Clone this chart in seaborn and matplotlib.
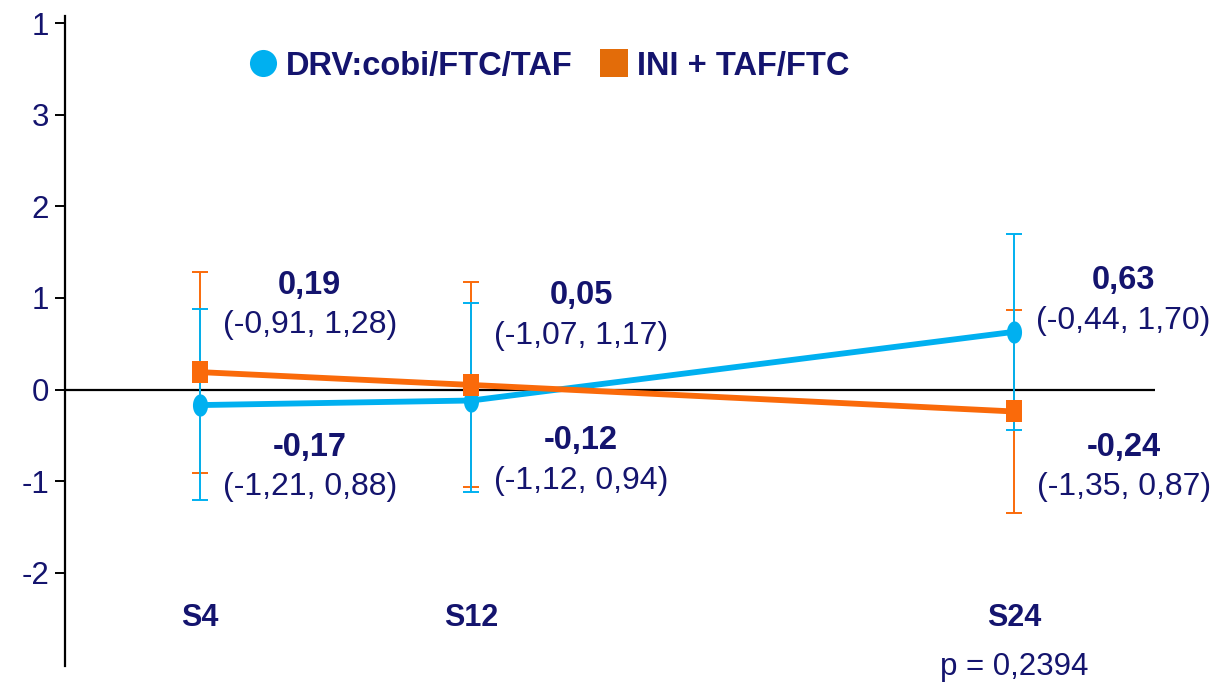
import numpy as np
import pandas as pd
import matplotlib
matplotlib.use("Agg")
import matplotlib.pyplot as plt
from matplotlib.lines import Line2D
import seaborn as sns

# ---------------- data ----------------
visits = ["S4", "S12", "S24"]
visit_pos = [1, 2, 4]
series_names = ["DRV:cobi/FTC/TAF", "INI + TAF/FTC"]
drv_mean = [-0.17, -0.12, 0.63]
drv_low = [-1.21, -1.12, -0.44]
drv_high = [0.88, 0.94, 1.70]
ini_mean = [0.19, 0.05, -0.24]
ini_low = [-0.91, -1.07, -1.35]
ini_high = [1.28, 1.17, 0.87]
ytick_values = [4, 3, 2, 1, 0, -1, -2]
ytick_labels = ["1", "3", "2", "1", "0", "-1", "-2"]
p_text = "p = 0,2394"

# ---------------- style ----------------
sns.set_style("white")
plt.rcParams["font.family"] = ["Liberation Sans", "DejaVu Sans"]
NAVY = "#14146E"
BLUE = "#00B0F0"
ORANGE = "#FA6A0A"
ORANGE_LEG = "#E36C09"

W, H = 1220, 685
fig = plt.figure(figsize=(W / 100, H / 100), dpi=100)
ax = fig.add_axes([64.5 / W, 19 / H, (1155 - 64.5) / W, (666 - 16) / H])

df = pd.DataFrame({
    "pos": visit_pos * 2,
    "value": drv_mean + ini_mean,
    "group": [series_names[0]] * 3 + [series_names[1]] * 3,
})

t = np.linspace(0, 2 * np.pi, 40)
ellipse = np.column_stack([0.68 * np.cos(t), np.sin(t)])
rect = [(-0.72, -1), (0.72, -1), (0.72, 1), (-0.72, 1), (-0.72, -1)]

ax.axhline(0, color="black", lw=1.6, zorder=1)

# error bars
ax.errorbar(visit_pos, ini_mean,
            yerr=[np.array(ini_mean) - np.array(ini_low), np.array(ini_high) - np.array(ini_mean)],
            fmt="none", ecolor=ORANGE, elinewidth=1.4, capsize=6, capthick=1.4, zorder=2)
ax.errorbar(visit_pos, drv_mean,
            yerr=[np.array(drv_mean) - np.array(drv_low), np.array(drv_high) - np.array(drv_mean)],
            fmt="none", ecolor=BLUE, elinewidth=1.4, capsize=6, capthick=1.4, zorder=3)

sns.lineplot(data=df, x="pos", y="value", hue="group", style="group",
             palette={series_names[0]: BLUE, series_names[1]: ORANGE},
             markers={series_names[0]: ellipse, series_names[1]: rect},
             dashes=False, markersize=16, linewidth=4.2, markeredgewidth=0,
             legend=False, ax=ax, zorder=4)

ax.set_xlim(0.5, 4.52)
ax.set_ylim(-3.02, 4.08)
ax.set_xlabel("")
ax.set_ylabel("")
ax.set_xticks([])
ax.set_yticks(ytick_values)
ax.set_yticklabels(ytick_labels, fontsize=22.5, color=NAVY)
ax.tick_params(axis="y", direction="out", length=7, width=1.4, color="black", pad=4, left=True)
for s in ["top", "right", "bottom"]:
    ax.spines[s].set_visible(False)
ax.spines["left"].set_color("black")
ax.spines["left"].set_linewidth(1.6)

def fmt(v):
    return f"{v:.2f}".replace(".", ",")

upper_y = [1.14, 1.03, 1.19]
lower_y = [-0.63, -0.56, -0.63]
gap = 0.44
for i, x in enumerate(visit_pos):
    pairs = [(drv_mean[i], drv_low[i], drv_high[i]), (ini_mean[i], ini_low[i], ini_high[i])]
    pairs.sort(key=lambda p: -p[0])
    for (m, lo, hi), yb in zip(pairs, [upper_y[i], lower_y[i]]):
        ax.annotate(fmt(m), xy=(x, yb), xytext=(79, 0), textcoords="offset points",
                    ha="center", va="center", fontsize=23.5, fontweight="bold", color=NAVY)
        ax.annotate(f"({fmt(lo)}, {fmt(hi)})", xy=(x, yb - gap), xytext=(79, 0),
                    textcoords="offset points", ha="center", va="center",
                    fontsize=23, color=NAVY)
    ax.text(x, -2.5, visits[i], ha="center", va="center", fontsize=22,
            fontweight="bold", color=NAVY)

ax.text(visit_pos[-1], -3.03, p_text, ha="center", va="center", fontsize=22.5,
        color=NAVY, clip_on=False)

handles = [
    Line2D([], [], marker="o", color=BLUE, linestyle="none", markersize=19.5, markeredgewidth=0),
    Line2D([], [], marker="s", color=ORANGE_LEG, linestyle="none", markersize=19.5, markeredgewidth=0),
]
leg = fig.legend(handles, series_names, loc="center left",
                 bbox_to_anchor=(217 / W, 1 - 66 / H), ncol=2, frameon=False,
                 handletextpad=0.2, columnspacing=0.77, handlelength=1.0,
                 prop={"size": 23.5, "weight": "bold"})
for txt in leg.get_texts():
    txt.set_color(NAVY)

fig.savefig("out.png", dpi=100)
